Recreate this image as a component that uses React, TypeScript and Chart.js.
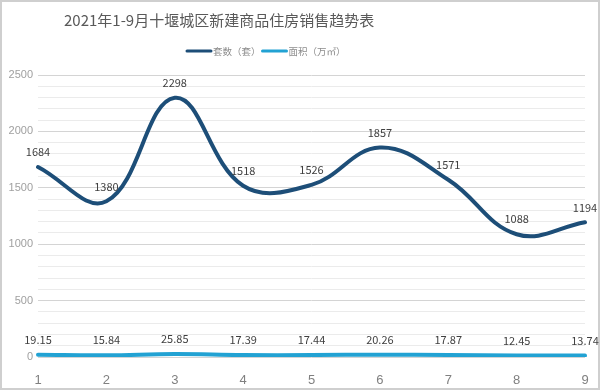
import React, { useEffect, useRef } from "react";
import { Chart, registerables } from "chart.js";

Chart.register(...registerables);

const months = ["1", "2", "3", "4", "5", "6", "7", "8", "9"];
const unitsSold = [1684, 1380, 2298, 1518, 1526, 1857, 1571, 1088, 1194];
const areaSold = [19.15, 15.84, 25.85, 17.39, 17.44, 20.26, 17.87, 12.45, 13.74];
const titleText = "2021年1-9月十堰城区新建商品住房销售趋势表";
const seriesNames = ["套数（套）", "面积（万㎡）"];
const seriesColors = ["#1d4e78", "#22a2d3"];

const CJK = '"Noto Sans CJK SC", "Noto Sans", sans-serif';

export default function App() {
  const ref = useRef<HTMLCanvasElement | null>(null);
  useEffect(() => {
    const canvas = ref.current;
    if (!canvas) return;
    const decor = {
      id: "decor",
      beforeDraw(chart: any) {
        const ctx = chart.ctx;
        ctx.save();
        ctx.fillStyle = "#ffffff";
        ctx.fillRect(0, 0, chart.width, chart.height);
        ctx.restore();
      },
      afterDraw(chart: any) {
        const ctx = chart.ctx;
        ctx.save();
        // border
        ctx.strokeStyle = "#cfcfcf";
        ctx.lineWidth = 2;
        ctx.strokeRect(1, 1, chart.width - 2, chart.height - 2);
        // title
        ctx.fillStyle = "#595959";
        ctx.font = `15px ${CJK}`;
        ctx.textBaseline = "middle";
        ctx.textAlign = "left";
        ctx.fillText(titleText, 64, 20);
        // legend
        ctx.font = `9.5px ${CJK}`;
        let x = 187;
        const y = 51;
        seriesNames.forEach((name, i) => {
          ctx.strokeStyle = seriesColors[i];
          ctx.lineWidth = 3;
          ctx.lineCap = "round";
          ctx.beginPath();
          ctx.moveTo(x, y);
          ctx.lineTo(x + 24, y);
          ctx.stroke();
          ctx.fillStyle = "#8c8c8c";
          ctx.fillText(name, x + 26, y);
          x += 26 + ctx.measureText(name).width + 2;
        });
        // data labels
        ctx.font = `11px ${CJK}`;
        ctx.fillStyle = "#404040";
        ctx.textAlign = "center";
        ctx.textBaseline = "middle";
        chart.data.datasets.forEach((ds: any, di: number) => {
          const meta = chart.getDatasetMeta(di);
          meta.data.forEach((pt: any, i: number) => {
            ctx.fillText(String(ds.data[i]), pt.x, pt.y - 15);
          });
        });
        ctx.restore();
      },
    };
    const chart = new Chart(canvas, {
      type: "line",
      data: {
        labels: months,
        datasets: [
          {
            label: seriesNames[0],
            data: unitsSold,
            borderColor: seriesColors[0],
            backgroundColor: seriesColors[0],
            borderWidth: 4,
            tension: 0.4,
            pointRadius: 0,
            borderCapStyle: "round",
          },
          {
            label: seriesNames[1],
            data: areaSold,
            borderColor: seriesColors[1],
            backgroundColor: seriesColors[1],
            borderWidth: 4,
            tension: 0.4,
            pointRadius: 0,
            borderCapStyle: "round",
          },
        ],
      },
      options: {
        animation: false,
        responsive: false,
        maintainAspectRatio: false,
        layout: { padding: { top: 75, right: 15, left: 0, bottom: 0 } },
        plugins: {
          legend: { display: false },
          title: { display: false },
          tooltip: { enabled: false },
        },
        scales: {
          x: {
            offset: false,
            grid: { display: false },
            border: { display: false },
            ticks: {
              color: "#808080",
              font: { size: 13, family: "Liberation Sans, Arial, sans-serif" },
              padding: 8,
              maxRotation: 0,
            },
            afterFit(scale: any) {
              scale.height = 33;
            },
          },
          y: {
            min: 0,
            max: 2500,
            border: { display: false },
            grid: {
              drawTicks: false,
              color: (c: any) =>
                c.tick && c.tick.value % 500 === 0 ? "#d4d4d4" : "#ebebeb",
              lineWidth: 1,
            },
            ticks: {
              stepSize: 100,
              autoSkip: false,
              color: "#a0a0a0",
              font: { size: 11, family: "Liberation Sans, Arial, sans-serif" },
              padding: 5,
              callback: (v: any) => (Number(v) % 500 === 0 ? String(v) : ""),
            },
            afterFit(scale: any) {
              scale.width = 38;
            },
          },
        },
      },
      plugins: [decor],
    });
    return () => chart.destroy();
  }, []);
  return (
    <div style={{ position: "fixed", left: 0, top: 0, width: 600, height: 390 }}>
      <canvas ref={ref} width={600} height={390} style={{ width: 600, height: 390 }} />
    </div>
  );
}
